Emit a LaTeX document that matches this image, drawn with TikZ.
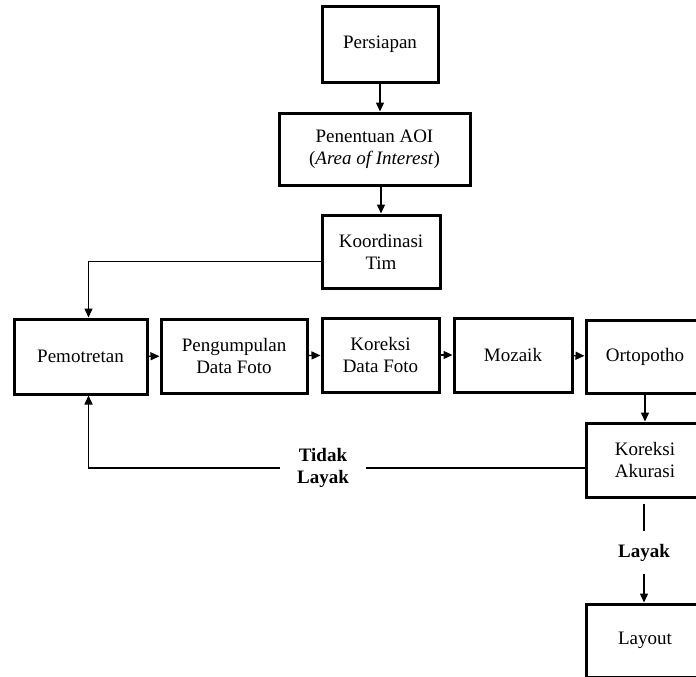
\documentclass[tikz,border=0pt]{standalone}
\usepackage{fontspec}
\setmainfont{Liberation Serif}
\usetikzlibrary{arrows.meta,positioning}

\begin{document}
\begin{tikzpicture}[x=1pt, y=-1pt,
      every node/.style={font=\fontsize{19}{22}\selectfont},
      box/.style={draw, line width=3pt, minimum width=118pt, minimum height=74pt, align=center, inner sep=2pt},
      flow/.style={line width=1.4pt, -{Triangle[length=9pt,width=8pt]}},
      plain/.style={line width=1.4pt},
      verdict/.style={font=\fontsize{19}{22}\selectfont\bfseries, align=center}
    ]
      \clip (0,0) rectangle (696,677);
      % vertical start
      \node[box, minimum width=116pt, minimum height=75pt] (persiapan) at (380,44.5) {Persiapan};
      \node[box, minimum width=191pt, minimum height=72pt] (aoi) at (374.5,149) {Penentuan AOI\\(\textit{Area of Interest})};
      \node[box, minimum height=73pt] (koord) at (381,251.5) {Koordinasi\\Tim};
      % main row
      \node[box, minimum width=133pt, minimum height=75pt] (pemotretan) at (80.5,356.5) {Pemotretan};
      \node[box, minimum width=146pt] (pengumpulan) at (234,356) {Pengumpulan\\Data Foto};
      \node[box, minimum width=117pt] (koreksifoto) at (380.5,355) {Koreksi\\Data Foto};
      \node[box] (mozaik) at (513,355) {Mozaik};
      \node[box, minimum height=73pt] (orto) at (645,356.5) {Ortopotho};
      % check and result
      \node[box] (akurasi) at (645,460) {Koreksi\\Akurasi};
      \node[box, minimum height=73pt] (layout) at (645,640.5) {Layout};
      \node[verdict, inner xsep=16.5pt] (tidak) at (323,468) {Tidak\\Layak};
      \node[verdict, inner ysep=13pt] (layak) at (644,552.5) {Layak};

      \draw[flow] (persiapan.south) -- (persiapan.south |- aoi.north);
      \draw[flow] (aoi.south -| koord.north) -- (koord.north);
      \draw[flow] ([yshift=-10pt]koord.west) -| ([xshift=8pt]pemotretan.north);
      \draw[flow] (pemotretan) -- (pengumpulan);
      \draw[flow] (pengumpulan) -- (koreksifoto);
      \draw[flow] (koreksifoto) -- (mozaik);
      \draw[flow] (mozaik) -- (orto);
      \draw[flow] (orto.south) -- (akurasi.north);
      \draw[plain] (akurasi.west |- tidak.east) -- (tidak.east);
      \draw[flow] (tidak.west) -| ([xshift=8pt]pemotretan.south);
      \draw[plain, shorten <=5pt] (akurasi.south -| layak.north) -- (layak.north);
      \draw[flow] (layak.south) -- (layak.south |- layout.north);
    \end{tikzpicture}
\end{document}
